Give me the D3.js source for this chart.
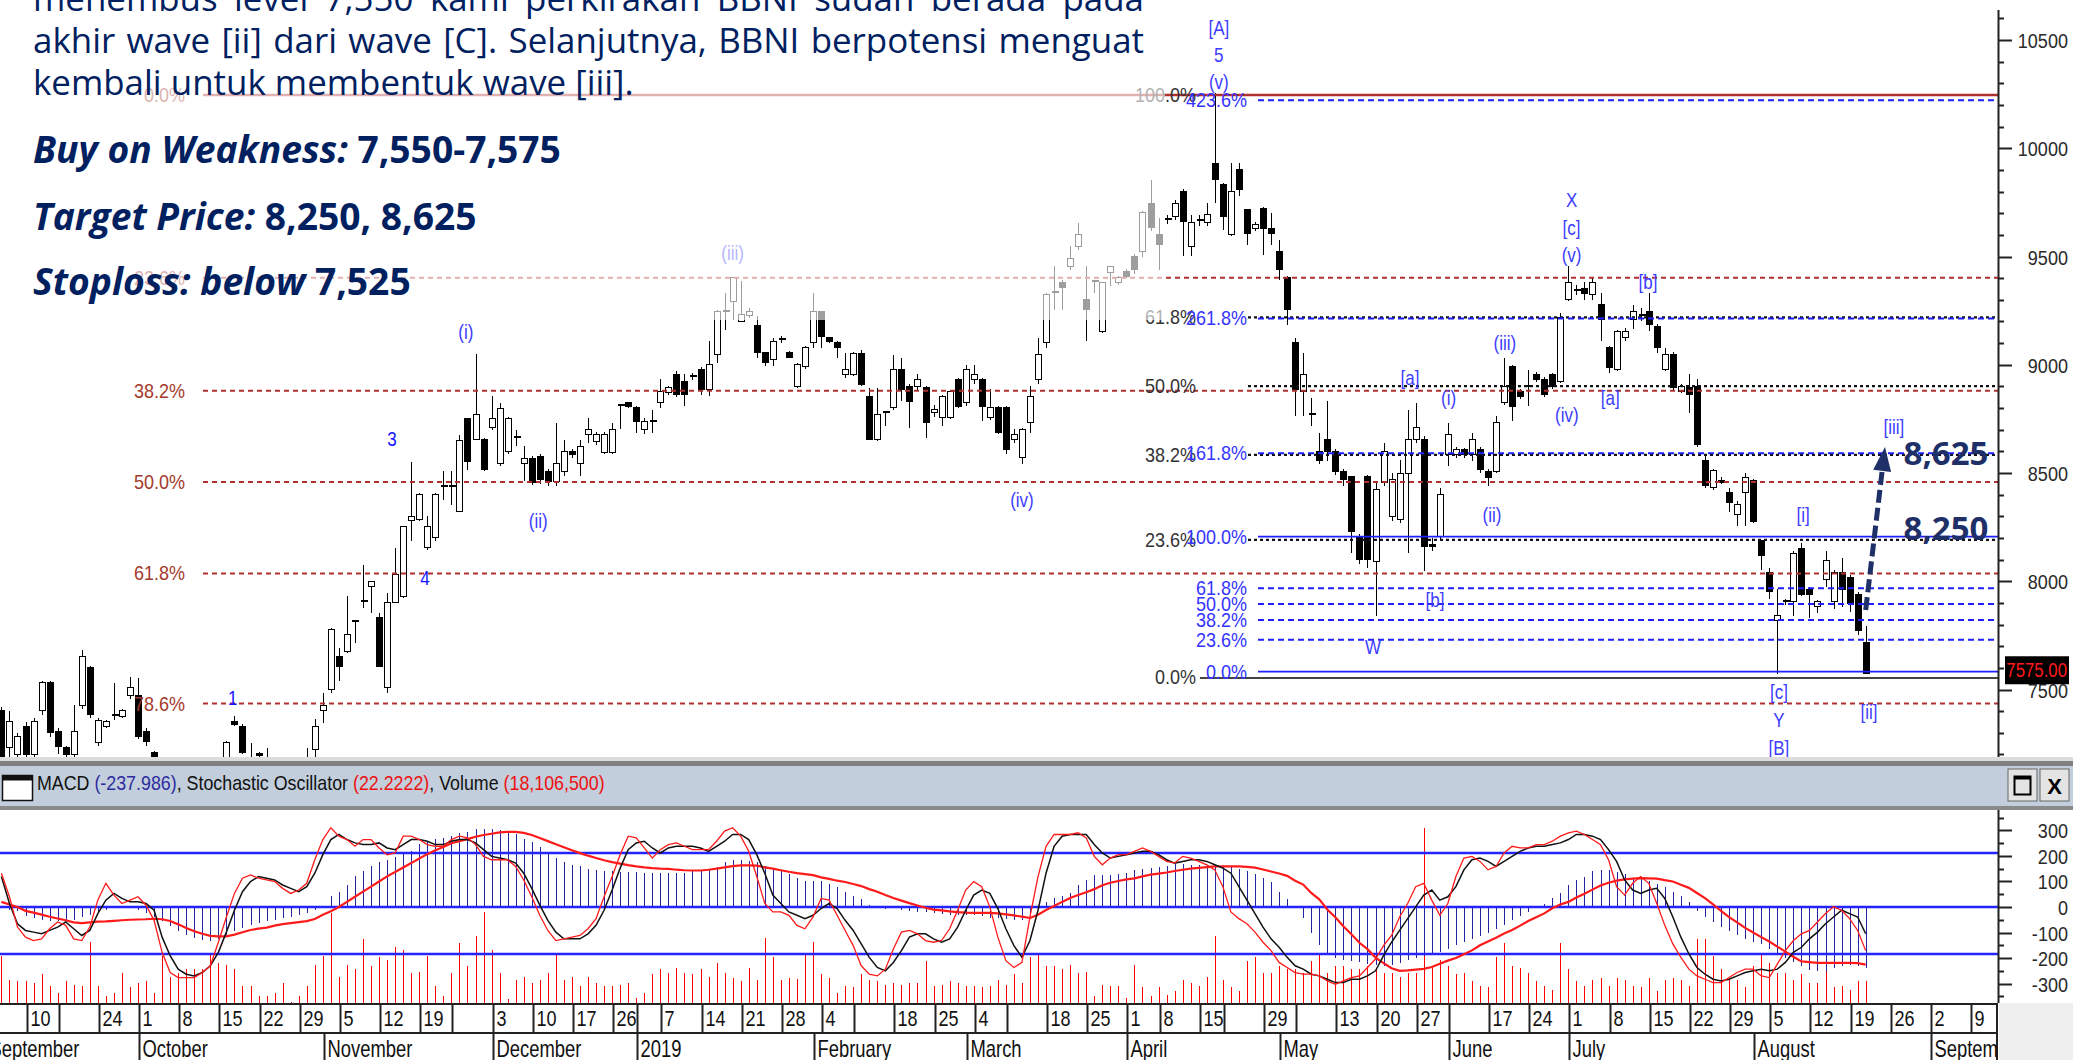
<!DOCTYPE html>
<html>
<head>
<meta charset="utf-8">
<script src="https://cdn.jsdelivr.net/npm/d3@7"></script>
<style>
  html, body { margin: 0; padding: 0; background: #fff; }
  svg { display: block; }
</style>
</head>
<body>
<svg id="chart" width="2073" height="1060"></svg>
<script>
// BBNI daily chart, Sep 2018 - Aug 2019

// exchange holidays, so the x axis runs on trading days
const holidays = ['2018-09-11','2018-11-20','2018-12-24','2018-12-25','2018-12-31','2019-01-01',
  '2019-02-05','2019-03-07','2019-04-03','2019-04-17','2019-04-19','2019-05-01','2019-05-30',
  '2019-06-03','2019-06-04','2019-06-05','2019-06-06','2019-06-07'];

// [open, high, low, close], one per trading day from 2018-09-05 (day index -3) to 2019-08-21 (229)
const candles = [
  // -3..1
  [7401,7420,7100,7150],[7231,7401,7180,7354],[7201,7300,7180,7285],[7331,7350,7180,7201],[7201,7370,7180,7354],
  // 2..6
  [7401,7540,7380,7531],[7531,7540,7280,7300],[7308,7320,7200,7239],[7231,7240,7180,7201],[7201,7427,7190,7308],
  // 7..11
  [7424,7682,7410,7651],[7600,7610,7370,7385],[7254,7370,7240,7359],[7331,7360,7320,7354],[7380,7531,7360,7374],
  // 12..16
  [7374,7410,7370,7401],[7470,7559,7454,7508],[7470,7554,7270,7285],[7308,7320,7240,7262],[7210,7215,7100,7150],
  // 17..21
  [7150,7160,7000,7050],[7050,7080,6900,6950],[6950,6980,6800,6850],[6850,6950,6750,6900],[6900,6950,6700,6800],
  // 22..26
  [6800,6850,6670,6750],[6750,6950,6700,6900],[6900,7100,6850,7050],[7150,7260,7100,7254],[7354,7378,7330,7339],
  // 27..31
  [7331,7340,7200,7208],[7180,7254,7100,7120],[7205,7210,7150,7195],[7150,7231,7050,7080],[7080,7100,6950,7000],
  // 32..36
  [7000,7050,6900,6950],[6950,7080,6920,7050],[7050,7150,7000,7100],[7100,7231,7080,7150],[7224,7362,7185,7331],
  // 37..41
  [7401,7482,7347,7427],[7500,7785,7485,7777],[7651,7693,7539,7608],[7677,7931,7670,7754],[7812,7822,7716,7820],
  // 42..46
  [7905,8077,7877,7910],[7977,8000,7854,8000],[7831,7854,7608,7608],[7508,7946,7485,7900],[7900,8154,7900,8031],
  // 47..51
  [7931,8254,7923,8254],[8282,8551,8185,8297],[8285,8408,8277,8400],[8154,8300,8146,8254],[8200,8408,8185,8400],
  // 52..56
  [8434,8508,8377,8438],[8438,8508,8354,8434],[8323,8677,8323,8651],[8754,8754,8516,8554],[8654,9051,8654,8769],
  // 57..61
  [8654,8662,8508,8516],[8708,8854,8700,8754],[8546,8823,8531,8800],[8600,8760,8590,8754],[8660,8700,8623,8664],
  // 62..66
  [8546,8623,8462,8569],[8569,8580,8446,8454],[8577,8590,8450,8469],[8508,8520,8440,8462],[8462,8731,8439,8546],
  // 67..71
  [8508,8654,8485,8600],[8600,8610,8570,8585],[8546,8654,8485,8623],[8677,8754,8639,8700],[8646,8690,8630,8677],
  // 72..76
  [8593,8690,8586,8678],[8593,8732,8586,8701],[8805,8816,8701,8812],[8824,8830,8800,8809],[8801,8810,8685,8740],
  // 77..81
  [8701,8755,8678,8740],[8738,8793,8685,8742],[8824,8932,8801,8878],[8870,8900,8862,8893],[8955,8970,8850,8862],
  // 82..86
  [8924,8955,8809,8862],[8947,8960,8930,8950],[8978,8990,8862,8886],[8886,9109,8855,9001],[9047,9255,9009,9247],
  // 87..91
  [9240,9331,9162,9247],[9293,9401,9209,9401],[9201,9385,9201,9232],[9227,9260,9216,9247],[9181,9224,9032,9055],
  // 92..96
  [9055,9060,8993,9009],[9024,9124,8993,9109],[9116,9132,9101,9117],[9055,9062,9030,9032],[8901,9010,8893,9001],
  // 97..101
  [8993,9085,8980,9078],[9101,9331,9078,9247],[9247,9250,9078,9132],[9124,9130,9100,9109],[9104,9110,9032,9078],
  // 102..106
  [8955,9055,8939,8978],[8955,9060,8950,9052],[9052,9070,8901,8909],[8855,8893,8655,8655],[8655,8893,8650,8770],
  // 107..111
  [8778,8785,8716,8780],[8801,9047,8793,8978],[8978,9032,8832,8886],[8901,8910,8709,8832],[8901,8955,8878,8932],
  // 112..116
  [8893,8900,8663,8732],[8778,8816,8760,8793],[8755,8860,8716,8855],[8755,8880,8750,8878],[8932,8940,8800,8809],
  // 117..121
  [8824,9001,8809,8978],[8932,9001,8909,8955],[8932,8940,8740,8809],[8755,8886,8745,8801],[8801,8810,8680,8685],
  // 122..126
  [8801,8810,8586,8609],[8655,8701,8640,8678],[8570,8710,8540,8701],[8732,8901,8685,8855],[8932,9124,8909,9047],
  // 127..131
  [9101,9331,9078,9324],[9331,9454,9255,9335],[9378,9393,9255,9355],[9455,9547,9439,9493],[9547,9655,9531,9601],
  // 132..136
  [9301,9454,9109,9255],[9385,9393,9331,9380],[9155,9378,9147,9378],[9424,9455,9362,9455],[9378,9410,9370,9401],
  // 137..141
  [9431,9440,9400,9408],[9501,9510,9420,9440],[9524,9710,9500,9701],[9747,9855,9620,9632],[9601,9678,9439,9555],
  // 142..146
  [9670,9690,9650,9675],[9685,9760,9670,9747],[9801,9810,9501,9662],[9547,9693,9501,9655],[9665,9690,9640,9670],
  // 147..151
  [9655,9747,9640,9693],[9931,10254,9747,9855],[9831,9840,9624,9685],[9601,9931,9593,9801],[9901,9931,9778,9808],
  // 152..156
  [9716,9720,9555,9608],[9631,9660,9620,9647],[9724,9730,9508,9631],[9631,9700,9555,9608],[9524,9578,9393,9439],
  // 157..161
  [9401,9408,9185,9255],[9101,9124,8763,8885],[8878,9055,8763,8955],[8772,8847,8716,8770],[8601,8685,8540,8560],
  // 162..166
  [8655,8832,8554,8600],[8601,8610,8490,8508],[8508,8520,8440,8470],[8485,8485,8131,8231],[8200,8220,8080,8100],
  // 167..171
  [8485,8490,8062,8100],[8093,8454,7839,8423],[8454,8640,8440,8600],[8300,8500,8280,8470],[8285,8560,8270,8500],
  // 172..176
  [8500,8793,8131,8654],[8654,8823,8640,8708],[8654,8670,8047,8162],[8170,8200,8140,8162],[8208,8431,8190,8400],
  // 177..181
  [8585,8731,8531,8677],[8585,8620,8570,8608],[8608,8615,8570,8585],[8585,8685,8554,8654],[8608,8620,8500,8516],
  // 182..186
  [8508,8520,8439,8477],[8508,8763,8500,8732],[8824,9032,8816,8901],[8993,9000,8740,8809],[8878,8890,8840,8855],
  // 187..191
  [8899,8978,8809,8901],[8955,8965,8920,8932],[8932,8945,8850,8862],[8955,8960,8890,8901],[8924,9239,8915,9216],
  // 192..196
  [9301,9455,9293,9378],[9345,9370,9320,9347],[9350,9380,9300,9331],[9324,9401,9301,9378],[9278,9331,9109,9209],
  // 197..201
  [9078,9085,8963,8986],[8978,9160,8970,9155],[9124,9170,9110,9155],[9209,9278,9163,9247],[9230,9260,9200,9232],
  // 202..206
  [9247,9331,9155,9186],[9178,9190,9055,9078],[8978,9078,8970,9047],[9047,9060,8880,8893],[8878,8910,8870,8901],
  // 207..211
  [8893,8955,8778,8862],[8901,8932,8620,8632],[8556,8580,8433,8444],[8433,8520,8420,8511],[8466,8480,8450,8455],
  // 212..216
  [8410,8430,8320,8366],[8310,8370,8255,8355],[8410,8500,8255,8477],[8466,8470,8270,8277],[8187,8190,8053,8120],
  // 217..221
  [8042,8060,7919,7952],[7818,7963,7572,7840],[7904,7920,7890,7910],[7907,8142,7840,8130],[8153,8175,7930,7941],
  // 222..226
  [7963,7975,7830,7941],[7885,7915,7855,7907],[8008,8142,7975,8097],[7907,8053,7870,8042],[8042,8108,7880,7963],
  // 227..229
  [8019,8030,7860,7896],[7941,7950,7751,7773],[7717,7795,7575,7575]
];
const firstDay = -3;

// MACD (blue histogram), same days as candles
const macd = [
  -5,-10,-17,-35,-45,-50,-55,-56,-56,-50,
  -40,-30,-18,-10,-5,-5,-5,-10,-22,-38,
  -55,-75,-95,-108,-120,-128,-133,-125,-110,-95,
  -82,-70,-62,-55,-50,-45,-40,-33,-23,-10,
  5,45,60,85,120,140,160,175,185,195,
  210,220,245,255,265,272,280,288,295,305,
  307,305,303,295,285,265,255,235,215,190,
  175,165,160,150,145,140,140,138,138,136,
  133,132,132,132,132,135,140,140,145,155,
  175,185,185,180,175,160,150,145,130,115,
  100,100,100,90,80,60,45,30,8,0,
  -8,-5,-10,-15,-18,-20,-25,-28,-30,-30,
  -30,-32,-35,-42,-45,-48,-50,-50,-30,-10,
  20,35,45,55,85,105,125,127,127,130,
  135,145,150,153,158,162,170,170,166,166,
  164,162,162,158,150,142,130,115,98,60,
  30,5,-45,-100,-150,-180,-200,-207,-210,-215,
  -224,-229,-232,-228,-220,-208,-198,-192,-188,-175,
  -165,-150,-138,-125,-112,-102,-88,-72,-50,-35,
  -18,0,12,35,55,85,105,118,140,146,
  146,138,128,115,108,100,90,78,58,42,
  20,-15,-38,-60,-78,-95,-110,-125,-138,-145,
  -165,-185,-198,-215,-232,-245,-250,-250,-240,-232,
  -226,-230,-238
];

// smooth red line of the MACD pane
const macdSignal = [
  20,10,0,-15,-22,-30,-38,-45,-52,-60,
  -63,-60,-57,-56,-54,-52,-50,-49,-48,-46,
  -48,-55,-68,-82,-95,-105,-113,-115,-115,-108,
  -99,-90,-85,-81,-73,-67,-63,-59,-55,-47,
  -30,-17,0,20,40,60,80,100,120,137,
  155,172,190,207,222,235,250,258,266,275,
  282,287,292,294,294,290,282,270,258,246,
  234,222,211,201,192,183,176,170,164,159,
  155,152,150,149,146,144,143,143,146,150,
  155,160,163,163,162,155,150,144,138,133,
  129,125,116,110,103,98,90,82,70,60,
  47,35,25,15,6,-3,-10,-13,-17,-20,
  -22,-23,-23,-23,-25,-29,-33,-38,-43,-30,
  -12,4,20,35,47,58,70,85,95,102,
  108,112,120,127,131,135,141,146,150,153,
  156,159,159,159,159,157,154,147,139,131,
  122,103,88,55,30,-10,-40,-75,-107,-140,
  -165,-198,-220,-240,-250,-248,-245,-242,-235,-222,
  -210,-200,-185,-170,-150,-135,-120,-104,-90,-73,
  -55,-40,-25,-5,10,20,37,52,68,84,
  95,103,108,111,113,112,111,105,100,87,
  75,55,35,10,-15,-40,-60,-82,-100,-118,
  -135,-155,-175,-195,-213,-216,-219,-219,-219,-219,
  -219,-220,-226
];

// stochastic oscillator %K (red) and %D (black)
const stochK = [
  68,54,36,30,28,29,35,39,37,29,
  28,36,52,62,55,50,52,54,49,40,
  21,9,6,6,6,9,13,27,42,56,
  65,67,65,64,63,59,56,58,62,76,
  88,95,90,88,84,88,88,83,79,80,
  90,90,88,85,84,84,88,90,89,85,
  78,76,76,76,72,64,54,43,34,28,
  29,30,31,35,41,54,66,79,90,89,
  83,77,82,85,86,84,82,82,82,87,
  93,95,90,81,66,50,45,45,43,37,
  35,42,53,52,43,34,25,13,8,7,
  11,23,33,34,32,28,27,28,35,46,
  58,63,60,48,30,16,12,15,42,66,
  84,91,91,91,92,89,78,73,77,79,
  79,81,83,81,78,75,74,78,77,75,
  73,70,60,45,41,38,33,27,22,15,
  12,9,8,8,7,4,2,4,6,7,
  12,17,25,31,42,50,60,62,52,43,
  50,66,77,78,75,70,72,80,84,83,
  83,85,85,87,90,92,93,91,88,85,
  76,60,55,62,66,62,50,37,26,18,
  11,7,5,3,3,6,9,11,11,7,
  6,14,22,28,32,34,39,44,48,46,
  41,34,22
];
const stochD = [
  66,50,38,34,33,32,34,36,39,35,
  31,34,44,52,56,53,51,51,50,46,
  30,19,11,8,7,9,13,21,33,46,
  57,63,66,65,64,61,59,57,60,68,
  79,88,91,88,86,85,85,86,83,82,
  85,88,88,87,85,85,87,88,88,86,
  82,78,77,76,74,68,59,49,40,33,
  29,29,29,32,37,46,58,71,82,86,
  87,83,80,83,84,84,84,83,81,84,
  87,91,91,88,79,68,55,50,45,43,
  41,43,47,50,47,40,34,26,18,12,
  10,15,22,30,32,32,29,27,29,36,
  46,55,58,56,47,35,25,18,28,46,
  68,84,90,91,91,91,85,80,77,78,
  79,80,81,81,79,76,74,75,76,76,
  75,73,71,68,60,52,44,36,29,24,
  18,13,11,8,7,5,3,3,5,5,
  7,10,19,27,34,41,48,55,58,52,
  54,60,70,76,77,75,72,75,78,81,
  83,84,84,85,86,88,91,91,90,88,
  82,75,64,58,56,58,59,53,42,30,
  20,12,8,5,4,5,7,9,10,11,
  10,11,15,21,24,29,33,38,42,46,
  44,42,32
];
const stochBands = [80, 20];

// volume, millions of shares
const volume = [
  39,19,18,18,17,24,14,8,18,15,
  14,51,14,6,8,25,13,17,18,8,
  39,22,25,28,28,28,42,33,32,28,
  14,14,6,6,8,17,1,6,14,32,
  39,75,22,32,28,53,31,38,36,47,
  44,25,26,39,14,6,25,50,31,56,
  76,44,25,3,19,22,17,19,25,40,
  19,22,14,22,17,14,14,15,17,4,
  8,24,28,25,29,25,24,28,22,33,
  25,21,18,29,19,54,38,19,21,20,
  42,51,24,21,8,14,13,24,19,18,
  15,17,15,17,17,35,14,15,18,17,
  14,14,13,14,19,15,24,17,38,40,
  31,31,28,32,25,26,6,15,14,14,
  4,32,13,6,13,7,10,19,17,14,
  22,56,19,13,10,35,38,25,25,31,
  28,28,25,35,42,25,31,31,28,28,
  31,29,25,25,22,25,25,146,31,36,
  31,24,25,18,14,13,38,50,31,29,
  25,18,14,11,50,28,18,14,19,21,
  14,21,19,14,13,21,10,19,21,19,
  14,53,53,39,28,19,19,13,31,42,
  33,25,25,19,24,17,17,31,13,14,
  11,18,18
];

// Fibonacci tools: anchor prices and ratios
const redFib = { top: 10246, bottom: 6670, ratios: [0, 23.6, 38.2, 50, 61.8, 78.6] };      // measured down from top
const blackFib = { bottom: 7556, top: 10246, ratios: [0, 23.6, 38.2, 50, 61.8, 100] };    // measured up from bottom
const blueFib = { base: 7583, end: 8206, ratios: [0, 23.6, 38.2, 50, 61.8, 100, 161.8, 261.8, 423.6] };

// Elliott wave labels: [text, trading-day index, price]
const waveLabels = [
  ['[A]',148.5,10555],['5',148.5,10431],['(v)',148.5,10306],
  ['(iii)',88,9516],['(i)',54.8,9151],['3',45.6,8657],['(ii)',63.8,8278],['4',49.7,8015],['1',25.8,7461],
  ['(iv)',124,8375],
  ['X',192.4,9761],['[c]',192.4,9632],['(v)',192.4,9507],['[b]',201.9,9382],
  ['[a]',172.3,8939],['(i)',177.1,8846],['(iii)',184.1,9100],['(iv)',191.8,8768],['[a]',197.2,8846],
  ['(ii)',182.5,8306],['[b]',175.4,7913],['W',167.7,7696],['[i]',221.2,8306],['[iii]',232.5,8712],
  ['[c]',218.2,7488],['Y',218.2,7359],['[B]',218.2,7230],['[ii]',229.4,7396]
];

const targets = [['8,625', 8625], ['8,250', 8250]];
const arrowPath = [[229, 7867], [231.4, 8620]];
const lastPrice = 7575;

const noteLines = [
  'menembus level 7,550 kami perkirakan BBNI sudah berada pada',
  'akhir wave [ii] dari wave [C]. Selanjutnya, BBNI berpotensi menguat',
  'kembali untuk membentuk wave [iii].'
];
const tradeLines = [
  ['Buy on Weakness:', ' 7,550-7,575'],
  ['Target Price:', ' 8,250, 8,625'],
  ['Stoploss: below', ' 7,525']
];

const priceTicks = d3.range(7200, 10700, 100);
const macdTicks = d3.range(-350, 351, 50);
const dayLabels = ['2018-09-10','2018-09-24','2018-10-01','2018-10-08','2018-10-15','2018-10-22','2018-10-29',
  '2018-11-05','2018-11-12','2018-11-19','2018-12-03','2018-12-10','2018-12-17','2018-12-26',
  '2019-01-07','2019-01-14','2019-01-21','2019-01-28','2019-02-04','2019-02-18','2019-02-25',
  '2019-03-04','2019-03-18','2019-03-25','2019-04-01','2019-04-08','2019-04-15','2019-04-29',
  '2019-05-13','2019-05-20','2019-05-27','2019-06-17','2019-06-24','2019-07-01','2019-07-08',
  '2019-07-15','2019-07-22','2019-07-29','2019-08-05','2019-08-12','2019-08-19','2019-08-26',
  '2019-09-02','2019-09-09'];
const monthNames = ['September','October','November','December','2019','February','March','April',
  'May','June','July','August','September'];

const bodyFont = "'Open Sans','Noto Sans','DejaVu Sans',sans-serif";
const axisFont = "'Liberation Sans',Arial,sans-serif";

function draw() {
  const svg = d3.select('#chart');

  const x = d3.scaleLinear().domain([0, 229]).range([25.5, 1865.7]);
  const y = d3.scaleLinear().domain([7500, 10500]).range([689.5, 40]);
  const yMacd = d3.scaleLinear().domain([-300, 300]).range([983.6, 830.4]);
  const yStoch = d3.scaleLinear().domain([20, 80]).range([954, 853]);
  const yVol = d3.scaleLinear().domain([0, 146]).range([1003, 828]);

  // trading day calendar
  const fmt = d3.timeFormat('%Y-%m-%d');
  const days = d3.timeDay.range(new Date(2018, 8, 3), new Date(2019, 8, 14))
    .filter(d => d.getDay() !== 0 && d.getDay() !== 6 && !holidays.includes(fmt(d)));
  const zero = days.findIndex(d => fmt(d) === '2018-09-10');
  const dayIdx = k => k - zero;

  // narrow label helper (the original uses a condensed face)
  function nt(g, px, py, str, o) {
    o = o || {};
    return g.append('text')
      .attr('transform', `translate(${px},${py}) scale(${o.sx || 0.86},1)`)
      .attr('text-anchor', o.anchor || 'start')
      .attr('font-family', axisFont)
      .attr('font-size', o.size || 20)
      .attr('fill', o.fill || '#2a2a2a')
      .text(str);
  }

  svg.append('defs').html(
    '<clipPath id="cpMain"><rect x="0" y="0" width="1998" height="757"/></clipPath>' +
    '<clipPath id="cpInd"><rect x="0" y="810" width="1998" height="193"/></clipPath>' +
    '<clipPath id="cpAxis"><rect x="0" y="1003" width="1998" height="57"/></clipPath>');

  // ---------- price pane ----------
  const main = svg.append('g').attr('clip-path', 'url(#cpMain)');

  // candles
  const cg = main.append('g').attr('shape-rendering', 'crispEdges');
  candles.forEach((c, k) => {
    const i = k + firstDay;
    const cx = Math.round(x(i)) + 0.5;
    const [o, h, l, cl] = c;
    cg.append('line').attr('x1', cx).attr('x2', cx).attr('y1', y(h)).attr('y2', y(l))
      .attr('stroke', '#000').attr('stroke-width', 1);
    const top = y(Math.max(o, cl)), bot = y(Math.min(o, cl));
    if (Math.abs(o - cl) < 8) {
      cg.append('line').attr('x1', cx - 3).attr('x2', cx + 4).attr('y1', top).attr('y2', top)
        .attr('stroke', '#000').attr('stroke-width', 2);
    } else {
      cg.append('rect').attr('x', cx - 3).attr('y', top).attr('width', 6).attr('height', Math.max(1, bot - top))
        .attr('fill', cl > o ? '#fff' : '#000').attr('stroke', '#000').attr('stroke-width', 1);
    }
  });

  // Fibonacci lines
  const fg = main.append('g');
  redFib.ratios.forEach(r => {
    const p = redFib.top - (redFib.top - redFib.bottom) * r / 100;
    const yy = y(p);
    fg.append('line').attr('x1', 203).attr('x2', 1998).attr('y1', yy).attr('y2', yy)
      .attr('stroke', '#b03030').attr('stroke-width', r === 0 ? 2.6 : 2)
      .attr('stroke-dasharray', r === 0 ? null : '5,4');
    nt(fg, 185, yy + 7, r.toFixed(1) + '%', { anchor: 'end', fill: '#a33a2c', size: 20, sx: 0.9 });
  });
  blackFib.ratios.forEach(r => {
    const p = blackFib.bottom + (blackFib.top - blackFib.bottom) * r / 100;
    const yy = y(p);
    if (r === 0) {
      fg.append('line').attr('x1', 1200).attr('x2', 1998).attr('y1', yy + 0.5).attr('y2', yy + 0.5)
        .attr('stroke', '#444').attr('stroke-width', 2);
    } else if (r < 100) {
      fg.append('line').attr('x1', 1248).attr('x2', 1998).attr('y1', yy).attr('y2', yy)
        .attr('stroke', '#111').attr('stroke-width', 2.2).attr('stroke-dasharray', '3,3');
    }
    nt(fg, 1196, yy + 7, r.toFixed(1) + '%', { anchor: 'end', fill: '#333', size: 20, sx: 0.9 });
  });
  blueFib.ratios.forEach(r => {
    const p = blueFib.base + (blueFib.end - blueFib.base) * r / 100;
    const yy = y(p);
    const solid = (r === 0 || r === 100);
    fg.append('line').attr('x1', 1258).attr('x2', 1998).attr('y1', yy).attr('y2', yy)
      .attr('stroke', '#1f1fff').attr('stroke-width', solid ? 1.8 : 2)
      .attr('stroke-dasharray', solid ? null : '6,4');
    nt(fg, 1247, yy + 7, r.toFixed(1) + '%', { anchor: 'end', fill: '#3434ff', size: 20, sx: 0.9 });
  });

  // wave labels
  const wg = main.append('g');
  waveLabels.forEach(([t, i, p]) => {
    const plain = (t === '1' || t === '3' || t === '4');
    nt(wg, x(i), y(p) + 7, t, { anchor: 'middle', fill: plain ? '#1414ff' : '#3c3cff', size: 20, sx: 0.85 });
  });

  // translucent note box over the top-left
  svg.append('rect').attr('x', 0).attr('y', 0).attr('width', 1165).attr('height', 320)
    .attr('fill', '#fff').attr('opacity', 0.62);

  // note text
  const tg = svg.append('g');
  const probe = tg.append('text').attr('font-family', bodyFont).attr('font-size', 32);
  const measure = s => { probe.text(s); return probe.node().getComputedTextLength(); };
  const fs = 32 * 601 / measure(noteLines[2]);
  probe.attr('font-size', fs);
  const spaceW = measure('a a') - measure('aa');
  const baselines = [11, 53, 95];
  noteLines.forEach((line, li) => {
    const words = line.split(' ');
    const ws = words.map(measure);
    const total = d3.sum(ws);
    const gap = li < 2 ? (1144 - 33 - total) / (words.length - 1) : spaceW;
    let cx = 33;
    words.forEach((w, wi) => {
      tg.append('text').attr('x', cx).attr('y', baselines[li]).attr('font-family', bodyFont)
        .attr('font-size', fs).attr('fill', '#002060').text(w);
      cx += ws[wi] + gap;
    });
  });
  probe.remove();

  const tradeBase = [163, 230, 295];
  const tradeTexts = tradeLines.map((pair, li) => {
    const t = tg.append('text').attr('x', 33).attr('y', tradeBase[li]).attr('font-family', bodyFont)
      .attr('font-size', 32).attr('font-weight', 700).attr('fill', '#002060');
    t.append('tspan').attr('font-style', 'italic').text(pair[0]);
    t.append('tspan').text(pair[1]);
    return t;
  });
  const bfs = 32 * 528 / tradeTexts[0].node().getComputedTextLength();
  tradeTexts.forEach(t => t.attr('font-size', bfs));

  // target arrow and labels
  const ag = svg.append('g');
  const [a0, a1] = arrowPath;
  const ax0 = x(a0[0]), ay0 = y(a0[1]), ax1 = x(a1[0]), ay1 = y(a1[1]);
  const ang = Math.atan2(ay1 - ay0, ax1 - ax0);
  const headLen = 24, headW = 9;
  const bx = ax1 - headLen * Math.cos(ang), by = ay1 - headLen * Math.sin(ang);
  ag.append('line').attr('x1', ax0).attr('y1', ay0).attr('x2', bx).attr('y2', by)
    .attr('stroke', '#1f3068').attr('stroke-width', 5).attr('stroke-dasharray', '13,5');
  ag.append('path')
    .attr('d', `M${ax1},${ay1} L${bx + headW * Math.sin(ang)},${by - headW * Math.cos(ang)} ` +
               `L${bx - headW * Math.sin(ang)},${by + headW * Math.cos(ang)} Z`)
    .attr('fill', '#1f3068');
  const tdy = { '8,625': 19, '8,250': 13 };
  targets.forEach(([lbl, p]) => {
    ag.append('text').attr('x', 1946).attr('y', y(p) + tdy[lbl]).attr('text-anchor', 'middle')
      .attr('font-family', bodyFont).attr('font-weight', 700).attr('font-size', 33)
      .attr('fill', '#1f3068').text(lbl);
  });

  // price axis
  const pa = svg.append('g');
  pa.append('line').attr('x1', 1998.5).attr('x2', 1998.5).attr('y1', 10).attr('y2', 757)
    .attr('stroke', '#222').attr('stroke-width', 2);
  priceTicks.forEach(p => {
    const yy = Math.round(y(p)) + 0.5;
    if (yy < 12 || yy > 756) return;
    const major = p % 500 === 0;
    pa.append('line').attr('x1', 1998).attr('x2', major ? 2012 : 2004).attr('y1', yy).attr('y2', yy)
      .attr('stroke', '#222').attr('stroke-width', 2);
    if (major) nt(pa, 2068, yy + 7, String(p), { anchor: 'end', size: 21, sx: 0.86 });
  });
  pa.append('rect').attr('x', 2005).attr('y', y(lastPrice) - 17).attr('width', 64).attr('height', 28)
    .attr('fill', '#000');
  nt(pa, 2067, y(lastPrice) + 4, lastPrice.toFixed(2), { anchor: 'end', size: 21, sx: 0.8, fill: '#ff1a1a' });

  // ---------- separator and indicator header ----------
  svg.append('rect').attr('x', 0).attr('y', 757).attr('width', 2073).attr('height', 4).attr('fill', '#dcdcdc');
  svg.append('rect').attr('x', 0).attr('y', 761).attr('width', 2073).attr('height', 5).attr('fill', '#808080');
  svg.append('rect').attr('x', 0).attr('y', 766).attr('width', 2073).attr('height', 40).attr('fill', '#c2cedb');
  svg.append('rect').attr('x', 0).attr('y', 806).attr('width', 2073).attr('height', 4).attr('fill', '#8a8a8a');
  const hg = svg.append('g');
  hg.append('rect').attr('x', 2.5).attr('y', 775.5).attr('width', 30).attr('height', 25)
    .attr('fill', '#fff').attr('stroke', '#111').attr('stroke-width', 1.5);
  hg.append('rect').attr('x', 2.5).attr('y', 775.5).attr('width', 30).attr('height', 5).attr('fill', '#111');
  const ht = hg.append('text').attr('x', 0).attr('y', 0).attr('font-family', axisFont).attr('font-size', 21).attr('fill', '#111');
  [['MACD ', '#111'], ['(-237.986)', '#2c2ca0'], [', Stochastic Oscillator ', '#111'], ['(22.2222)', '#ee1111'],
   [', Volume ', '#111'], ['(18,106,500)', '#ee1111']].forEach(([s, c]) => ht.append('tspan').attr('fill', c).text(s));
  const hw = ht.node().getComputedTextLength();
  ht.attr('transform', `translate(37,790) scale(${568 / hw},1)`);
  [[2008, '\u25A1'], [2040, 'X']].forEach(([bx0, s]) => {
    hg.append('rect').attr('x', bx0).attr('y', 769).attr('width', 29).attr('height', 32)
      .attr('fill', '#e4e4e4').attr('stroke', '#666').attr('stroke-width', 1);
  });
  hg.append('rect').attr('x', 2014.5).attr('y', 776.5).attr('width', 16).attr('height', 18)
    .attr('fill', 'none').attr('stroke', '#000').attr('stroke-width', 2);
  hg.append('rect').attr('x', 2014.5).attr('y', 776.5).attr('width', 16).attr('height', 3).attr('fill', '#000');
  hg.append('text').attr('x', 2054.5).attr('y', 794).attr('text-anchor', 'middle').attr('font-family', axisFont)
    .attr('font-weight', 700).attr('font-size', 22).text('X');

  // ---------- indicator pane ----------
  const ind = svg.append('g').attr('clip-path', 'url(#cpInd)');
  const ig = ind.append('g').attr('shape-rendering', 'crispEdges');
  volume.forEach((v, k) => {
    const cx = Math.round(x(k + firstDay)) + 0.5;
    ig.append('line').attr('x1', cx).attr('x2', cx).attr('y1', yVol(0)).attr('y2', yVol(v))
      .attr('stroke', '#ff0000').attr('stroke-width', 1);
  });
  macd.forEach((v, k) => {
    const cx = Math.round(x(k + firstDay)) + 0.5;
    ig.append('line').attr('x1', cx).attr('x2', cx).attr('y1', yMacd(0)).attr('y2', yMacd(v))
      .attr('stroke', '#24249e').attr('stroke-width', 1.2);
  });
  [yMacd(0), yStoch(stochBands[0]), yStoch(stochBands[1])].forEach(yy => {
    ind.append('line').attr('x1', 0).attr('x2', 1998).attr('y1', yy).attr('y2', yy)
      .attr('stroke', '#2424ff').attr('stroke-width', 2.5);
  });
  const lineFor = (arr, sc) => d3.line().x((d, k) => x(k + firstDay)).y(d => sc(d))(arr);
  ind.append('path').attr('d', lineFor(macdSignal, yMacd)).attr('fill', 'none')
    .attr('stroke', '#ff1a1a').attr('stroke-width', 2.2);
  ind.append('path').attr('d', lineFor(stochD, yStoch)).attr('fill', 'none')
    .attr('stroke', '#111').attr('stroke-width', 1.5);
  ind.append('path').attr('d', lineFor(stochK, yStoch)).attr('fill', 'none')
    .attr('stroke', '#ff1a1a').attr('stroke-width', 1.3);

  // indicator axis
  const ia = svg.append('g');
  ia.append('line').attr('x1', 1998.5).attr('x2', 1998.5).attr('y1', 810).attr('y2', 1003)
    .attr('stroke', '#222').attr('stroke-width', 2);
  macdTicks.forEach(v => {
    const yy = Math.round(yMacd(v)) + 0.5;
    const major = v % 100 === 0;
    ia.append('line').attr('x1', 1998).attr('x2', major ? 2012 : 2004).attr('y1', yy).attr('y2', yy)
      .attr('stroke', '#222').attr('stroke-width', 2);
    if (major) nt(ia, 2068, yy + 7, String(v), { anchor: 'end', size: 21, sx: 0.86 });
  });

  // ---------- date axis ----------
  svg.append('rect').attr('x', 1999).attr('y', 1003).attr('width', 74).attr('height', 57).attr('fill', '#efefef');
  const da = svg.append('g').attr('clip-path', 'url(#cpAxis)');
  da.append('line').attr('x1', 0).attr('x2', 1998).attr('y1', 1004).attr('y2', 1004).attr('stroke', '#222').attr('stroke-width', 2);
  da.append('line').attr('x1', 0).attr('x2', 1998).attr('y1', 1033).attr('y2', 1033).attr('stroke', '#222').attr('stroke-width', 2);
  da.append('line').attr('x1', 1997).attr('x2', 1997).attr('y1', 1003).attr('y2', 1060).attr('stroke', '#222').attr('stroke-width', 2);
  let monthK = 0;
  days.forEach((d, k) => {
    const i = dayIdx(k);
    const px = Math.round(x(i)) + 1.5;
    const prev = days[k - 1];
    const newWeek = !prev || +d3.timeMonday.floor(d) !== +d3.timeMonday.floor(prev);
    const newMonth = !prev || d.getMonth() !== prev.getMonth();
    if (newWeek) {
      da.append('line').attr('x1', px).attr('x2', px).attr('y1', 1004).attr('y2', 1033)
        .attr('stroke', '#222').attr('stroke-width', 2);
      if (dayLabels.includes(fmt(d))) nt(da, px + 3, 1026, String(d.getDate()), { size: 22, sx: 0.82, fill: '#111' });
    }
    if (newMonth) {
      da.append('line').attr('x1', px).attr('x2', px).attr('y1', 1033).attr('y2', 1060)
        .attr('stroke', '#222').attr('stroke-width', 2);
      nt(da, px + 3, 1057, monthNames[monthK++], { size: 23, sx: 0.8, fill: '#111' });
    }
  });
}

if (document.fonts && document.fonts.ready) document.fonts.ready.then(draw); else draw();
</script>
</body>
</html>
